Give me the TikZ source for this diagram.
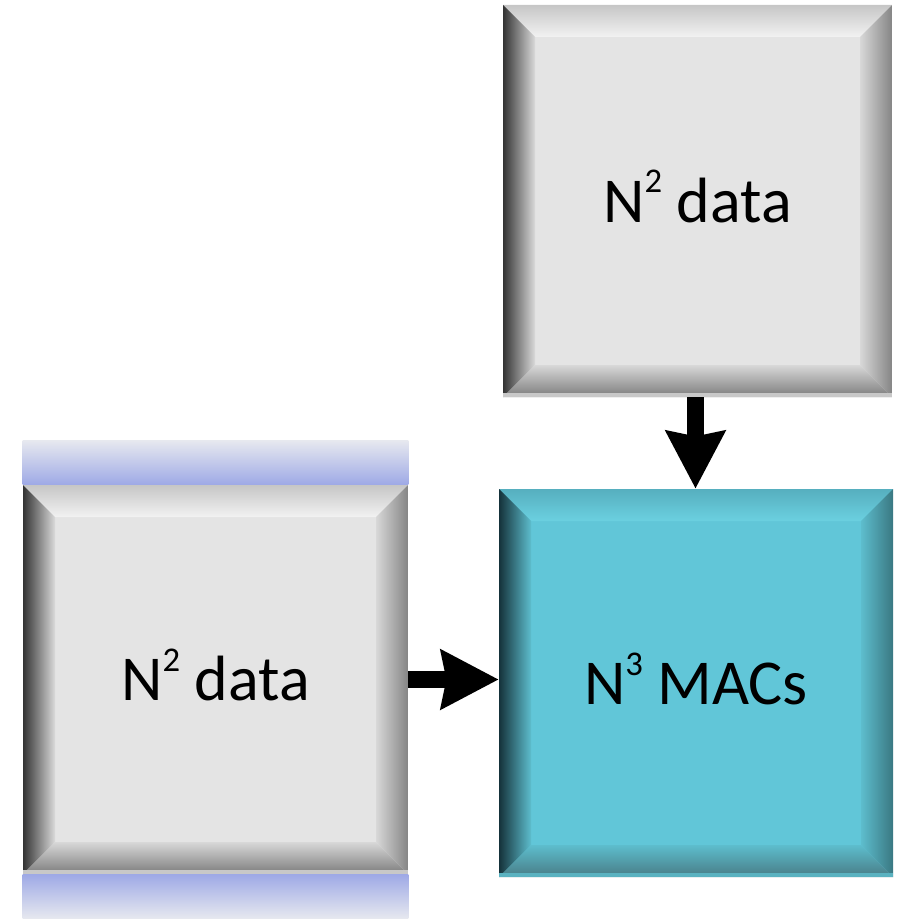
\documentclass[tikz,border=0pt]{standalone}
\usepackage{fontspec}
\setmainfont{Carlito}
\usetikzlibrary{arrows.meta, calc}

% grey tiles
\definecolor{greyFace}{HTML}{E4E4E4}
\definecolor{greyTopA}{HTML}{C6C6C6}
\definecolor{greyTopM}{HTML}{FFFFFF}
\definecolor{greyTopB}{HTML}{F2F2F2}
\definecolor{greyLeftOut}{HTML}{333333}
\definecolor{greyLeftIn}{HTML}{DADADA}
\definecolor{greyRightOut}{HTML}{858585}
\definecolor{greyRightIn}{HTML}{D8D8D8}
\definecolor{greyBotOut}{HTML}{7C7C7C}
\definecolor{greyBotIn}{HTML}{D8D8D8}
\definecolor{greyEdge}{HTML}{C8C8C8}
% cyan tile
\definecolor{cyanFace}{HTML}{61C6D8}
\definecolor{cyanTopA}{HTML}{56AFBF}
\definecolor{cyanTopM}{HTML}{94F8FB}
\definecolor{cyanTopB}{HTML}{6BD0E0}
\definecolor{cyanLeftOut}{HTML}{15323A}
\definecolor{cyanLeftIn}{HTML}{5DBDCD}
\definecolor{cyanRightOut}{HTML}{3A7882}
\definecolor{cyanRightIn}{HTML}{5DBDCD}
\definecolor{cyanBotOut}{HTML}{487C85}
\definecolor{cyanBotIn}{HTML}{5DBDCD}
\definecolor{cyanEdge}{HTML}{5AB2C0}
% selection bars
\definecolor{barPale}{HTML}{E6E8EF}
\definecolor{barBlue}{HTML}{9EA9E6}

\newcommand{\pw}[1]{\raisebox{22pt}{\fontsize{26}{26}\selectfont #1}}

% bevelled faces drawn inside a tile
\newcommand{\bevelfaces}[1]{%
  \coordinate (bnw) at (path picture bounding box.north west);
  \coordinate (bne) at (path picture bounding box.north east);
  \coordinate (bsw) at (path picture bounding box.south west);
  \coordinate (bse) at (path picture bounding box.south east);
  \shade[top color=#1TopA, middle color=#1TopM, bottom color=#1TopB]
    (bnw) -- (bne) -- ($(bne)+(-24pt,-24pt)$) -- ($(bnw)+(24pt,-24pt)$) -- cycle;
  \shade[left color=#1LeftOut, right color=#1LeftIn]
    (bnw) -- ($(bnw)+(24pt,-24pt)$) -- ($(bsw)+(24pt,24pt)$) -- (bsw) -- cycle;
  \shade[left color=#1RightIn, right color=#1RightOut]
    (bne) -- ($(bne)+(-24pt,-24pt)$) -- ($(bse)+(-24pt,24pt)$) -- (bse) -- cycle;
  \shade[top color=#1BotIn, bottom color=#1BotOut]
    (bsw) -- ($(bsw)+(24pt,24pt)$) -- ($(bse)+(-24pt,24pt)$) -- (bse) -- cycle;
  \fill[#1Edge] (bsw) rectangle ($(bse)+(0,3pt)$);
}

\begin{document}
\begin{tikzpicture}[
    x=0.75pt, y=-0.75pt,
    every node/.style={font=\fontsize{48}{56}\selectfont},
    tile/.style={inner sep=0pt, text height=32pt, text depth=0pt},
    greytile/.style={tile, fill=greyFace, path picture={\bevelfaces{grey}}},
    cyantile/.style={tile, fill=cyanFace, path picture={\bevelfaces{cyan}}},
    arrow/.style={-{Stealth[length=43pt, width=43.5pt, inset=3.75pt]}, line width=12.75pt}
]
\useasboundingbox (0,0) rectangle (902,919);

\node[greytile, minimum width=291.75pt, minimum height=294pt] (rows) at (697.5,201) {N\pw{2} data};
\node[greytile, minimum width=288.75pt, minimum height=291.75pt] (cols) at (215.5,679.5) {N\pw{2} data};
\node[cyantile, minimum width=295.5pt, minimum height=291pt] (macs) at (696,683) {N\pw{3} MACs};

% selection bars round the left tile
\shade[top color=barPale, bottom color=barBlue] ($(cols.north west)+(0,33pt)$) rectangle (cols.north east);
\shade[top color=barBlue, bottom color=barPale] (cols.south west) rectangle ($(cols.south east)+(0,-33pt)$);

\coordinate (drop) at ($(rows.south)+(-2,0)$);
\draw[arrow] (drop) -- (drop |- macs.north);
\draw[arrow] (cols.east) -- (cols.east -| macs.west);

\end{tikzpicture}
\end{document}
